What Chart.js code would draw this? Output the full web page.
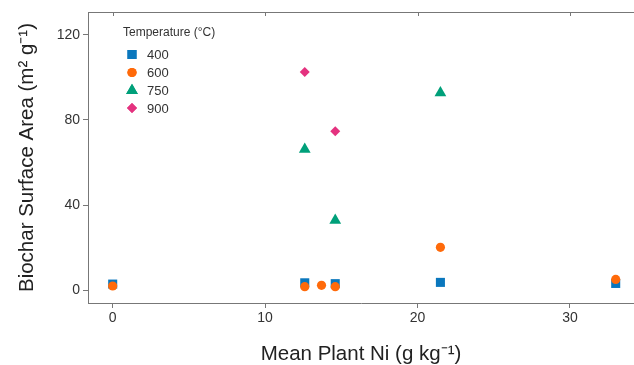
<!DOCTYPE html>
<html>
<head>
<meta charset="utf-8">
<script src="https://cdn.jsdelivr.net/npm/chart.js@4"></script>
<style>
  body { margin: 0; background: #fff; overflow: hidden; }
  canvas { display: block; }
</style>
</head>
<body>
<canvas id="myChart" width="634" height="365"></canvas>
<script>
// datos
const temps = ['400', '600', '750', '900'];
const ni400 = [0, 12.6, 14.6, 21.5, 33.0];
const area400 = [2.8, 3.4, 3.0, 3.6, 3.1];
const ni600 = [0, 12.6, 13.7, 14.6, 21.5, 33.0];
const area600 = [1.9, 1.6, 2.2, 1.6, 20.1, 5.0];
const ni750 = [12.6, 14.6, 21.5];
const area750 = [66.2, 32.8, 92.8];
const ni900 = [12.6, 14.6];
const area900 = [102.6, 74.7];
const xTicks = [0, 10, 20, 30];
const yTicks = [0, 40, 80, 120];

const colores = ['#0A77BD', '#FF6A0A', '#00A07A', '#E4327F'];
const formas = ['rect', 'circle', 'triangle', 'rectRot'];
const radios = [6.4, 4.6, 6.8, 5];
const fuente = 'Liberation Sans, Arial, sans-serif';

function puntos(xs, ys) {
  return xs.map((x, i) => ({ x: x, y: ys[i] }));
}
const series = [
  puntos(ni400, area400),
  puntos(ni600, area600),
  puntos(ni750, area750),
  puntos(ni900, area900)
];

// borde superior con marcas hacia dentro + leyenda
const extras = {
  id: 'extras',
  afterDraw(chart) {
    const ctx = chart.ctx;
    const area = chart.chartArea;
    const xs = chart.scales.x;
    ctx.save();
    ctx.strokeStyle = '#777';
    ctx.lineWidth = 1;
    ctx.beginPath();
    ctx.moveTo(area.left, area.top + 0.5);
    ctx.lineTo(area.right, area.top + 0.5);
    xTicks.forEach(v => {
      const px = Math.round(xs.getPixelForValue(v)) + 0.5;
      ctx.moveTo(px, area.top);
      ctx.lineTo(px, area.top + 4);
    });
    ctx.stroke();

    ctx.fillStyle = '#333';
    ctx.font = '12px ' + fuente;
    ctx.textBaseline = 'middle';
    ctx.textAlign = 'left';
    ctx.fillText('Temperature (°C)', 123, 33);
    ctx.font = '13px ' + fuente;
    const filas = [54.5, 72.5, 90.5, 108];
    temps.forEach((t, i) => {
      ctx.fillStyle = colores[i];
      ctx.strokeStyle = colores[i];
      Chart.helpers.drawPoint(ctx, { pointStyle: formas[i], radius: radios[i], borderWidth: 0 }, 132, filas[i]);
      ctx.fill();
      ctx.fillStyle = '#333';
      ctx.fillText(t, 147, filas[i] + 1);
    });
    ctx.restore();
  }
};

const ctx = document.getElementById('myChart');
new Chart(ctx, {
  type: 'scatter',
  data: {
    datasets: series.map((s, i) => ({
      label: temps[i],
      data: s,
      pointStyle: formas[i],
      pointRadius: radios[i],
      pointHoverRadius: radios[i],
      backgroundColor: colores[i],
      borderColor: colores[i],
      borderWidth: 0,
      order: 4 - i
    }))
  },
  options: {
    responsive: false,
    animation: false,
    events: [],
    layout: { autoPadding: false, padding: { top: 12, left: 0, right: 0, bottom: 0 } },
    plugins: {
      legend: { display: false },
      tooltip: { enabled: false }
    },
    scales: {
      x: {
        type: 'linear',
        min: -1.62,
        max: 34.2,
        afterBuildTicks: s => { s.ticks = xTicks.map(v => ({ value: v })); },
        afterFit: s => { s.height = 62; s.paddingLeft = 0; s.paddingRight = 0; },
        grid: { display: true, drawOnChartArea: false, tickLength: 5, color: '#777' },
        border: { display: true, color: '#777', width: 1 },
        ticks: { padding: 2, color: '#333', font: { family: fuente, size: 14 }, maxRotation: 0 },
        title: {
          display: true,
          text: 'Mean Plant Ni (g kg⁻¹)',
          color: '#222',
          font: { family: fuente, size: 20.5, lineHeight: 1 },
          padding: { top: 0, bottom: 0 }
        }
      },
      y: {
        type: 'linear',
        min: -6.1,
        max: 130.8,
        afterBuildTicks: s => { s.ticks = yTicks.map(v => ({ value: v })); },
        afterFit: s => { s.width = 88; s.paddingTop = 0; s.paddingBottom = 0; },
        grid: { display: true, drawOnChartArea: false, tickLength: 5, color: '#777' },
        border: { display: true, color: '#777', width: 1 },
        ticks: { padding: 3, color: '#333', font: { family: fuente, size: 14 } },
        title: {
          display: true,
          text: 'Biochar Surface Area (m² g⁻¹)',
          color: '#222',
          font: { family: fuente, size: 20.5, lineHeight: 1 },
          padding: { top: 17, bottom: 0 }
        }
      }
    }
  },
  plugins: [extras]
});
</script>
</body>
</html>
